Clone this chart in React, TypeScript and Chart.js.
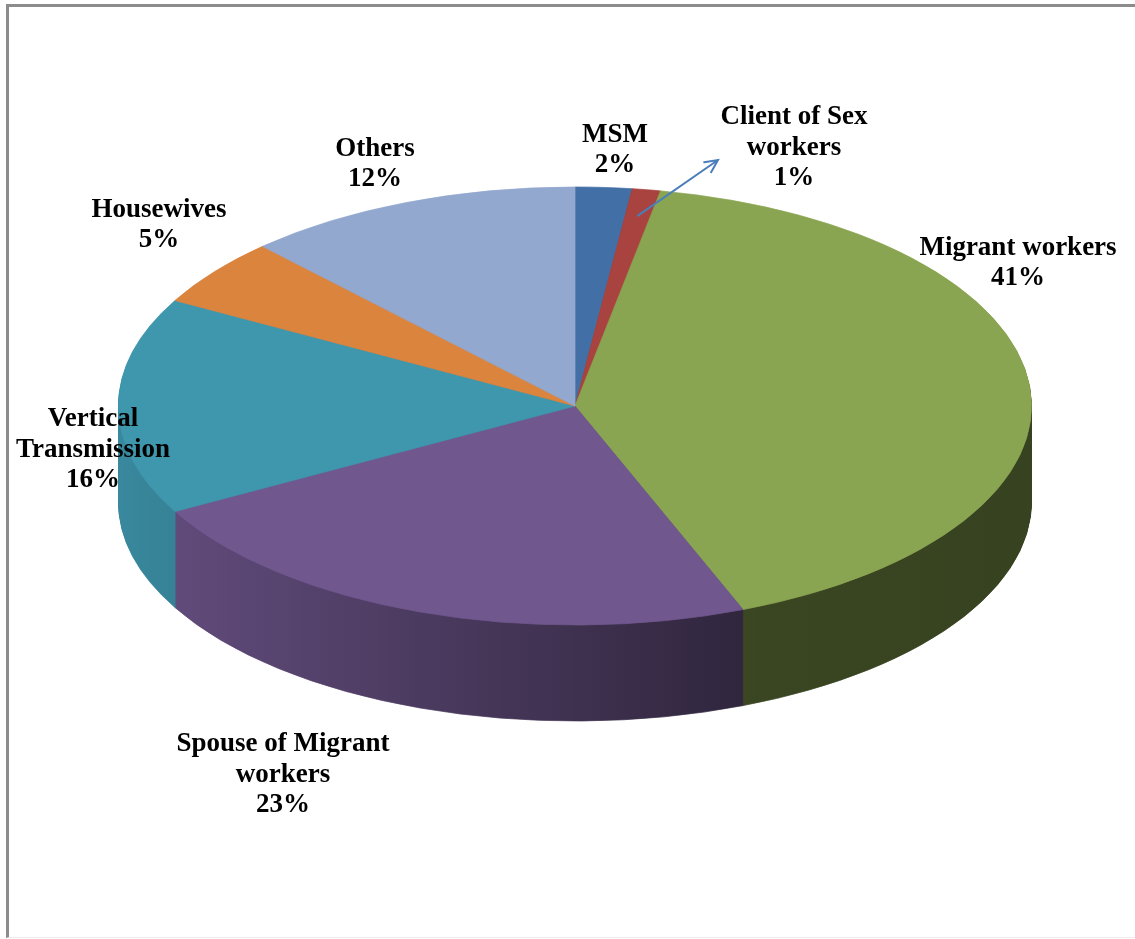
import { useEffect, useRef } from "react";
import { Chart, registerables } from "chart.js";

Chart.register(...registerables);

// ---- data ----
const categories = [
  "MSM",
  "Client of Sex\nworkers",
  "Migrant workers",
  "Spouse of Migrant\nworkers",
  "Vertical\nTransmission",
  "Housewives",
  "Others",
];
const values = [2, 1, 41, 23, 16, 5, 12];
const colors = ["#4270a6", "#a8433f", "#8aa551", "#70578e", "#3f97ae", "#db843e", "#93a8cf"];

// ---- layout ----
const W = 1135;
const H = 939;
const CX = 575; // horizontal centre of pie
const RX = 457; // horizontal radius
const CY = 406; // vertical centre of top face
const RY = 219; // vertical radius of top face
const DEPTH = 96; // wall thickness in px
// label block centres, relative to pie centre (px)
const labelOffsets: [number, number][] = [
  [40, -256],
  [219, -258],
  [443, -143],
  [-292, 369],
  [-482, 44],
  [-416, -181],
  [-200, -242],
];
const arrowEnd: [number, number] = [143, -246];

function shade(hex: string, f: number) {
  const n = parseInt(hex.slice(1), 16);
  const r = Math.round(((n >> 16) & 255) * f);
  const g = Math.round(((n >> 8) & 255) * f);
  const b = Math.round((n & 255) * f);
  return `rgb(${r},${g},${b})`;
}

const pie3d = {
  id: "pie3d",
  beforeDatasetsDraw(chart: any) {
    const arcs = chart.getDatasetMeta(0).data;
    chart.$pie3dSaved = false;
    if (!arcs.length) return;
    const a0 = arcs[0];
    const r = a0.outerRadius;
    const ex = a0.x;
    const ey = a0.y;
    const k = RY / r;
    const ctx = chart.ctx as CanvasRenderingContext2D;
    ctx.save();
    chart.$pie3dSaved = true;
    ctx.translate(0, CY);
    ctx.scale(1, k);
    ctx.translate(0, -ey);
    const grads = colors.map((c) => {
      const g = ctx.createLinearGradient(ex - r, 0, ex + r, 0);
      g.addColorStop(0, shade(c, 0.9));
      g.addColorStop(0.7, shade(c, 0.42));
      g.addColorStop(1, shade(c, 0.4));
      return g;
    });
    for (let d = DEPTH; d >= 1; d--) {
      ctx.save();
      ctx.translate(0, d / k);
      arcs.forEach((el: any, i: number) => {
        const p = Object.create(el);
        p.options = { ...el.options, backgroundColor: grads[i], borderColor: grads[i] };
        p.draw(ctx);
      });
      ctx.restore();
    }
  },
  afterDatasetsDraw(chart: any) {
    if (chart.$pie3dSaved) chart.ctx.restore();
    chart.$pie3dSaved = false;
  },
  afterDraw(chart: any) {
    const arcs = chart.getDatasetMeta(0).data;
    if (!arcs.length) return;
    const ex = arcs[0].x;
    const ctx = chart.ctx as CanvasRenderingContext2D;
    const total = values.reduce((a, b) => a + b, 0);
    ctx.save();
    ctx.fillStyle = "#000";
    ctx.font = "bold 27px 'Liberation Serif', 'Times New Roman', serif";
    ctx.textAlign = "center";
    ctx.textBaseline = "middle";
    const lh = 30.5;
    categories.forEach((cat, i) => {
      const lines = [...cat.split("\n"), Math.round((values[i] / total) * 100) + "%"];
      const [dx, dy] = labelOffsets[i];
      const x0 = ex + dx;
      const y0 = CY + dy - ((lines.length - 1) * lh) / 2;
      lines.forEach((ln, j) => ctx.fillText(ln, x0, y0 + j * lh));
    });
    // leader arrow for the small slice
    const el = arcs[1];
    const mid = (el.startAngle + el.endAngle) / 2;
    const sx = ex + Math.cos(mid) * RX * 0.88;
    const sy = CY + Math.sin(mid) * RY * 0.88;
    const tx = ex + arrowEnd[0];
    const ty = CY + arrowEnd[1];
    ctx.strokeStyle = "#4a7ebb";
    ctx.lineWidth = 2;
    ctx.lineCap = "round";
    ctx.beginPath();
    ctx.moveTo(sx, sy);
    ctx.lineTo(tx, ty);
    const ang = Math.atan2(ty - sy, tx - sx);
    const hl = 14;
    ctx.moveTo(tx - hl * Math.cos(ang - 0.45), ty - hl * Math.sin(ang - 0.45));
    ctx.lineTo(tx, ty);
    ctx.lineTo(tx - hl * Math.cos(ang + 0.45), ty - hl * Math.sin(ang + 0.45));
    ctx.stroke();
    ctx.restore();
  },
};

export default function App() {
  const ref = useRef<HTMLCanvasElement | null>(null);
  useEffect(() => {
    if (!ref.current) return;
    const side = 2 * RX;
    const chart = new Chart(ref.current, {
      type: "pie",
      data: {
        labels: categories.map((c) => c.replace("\n", " ")),
        datasets: [
          {
            data: values,
            backgroundColor: colors,
            borderColor: colors,
            borderWidth: 1,
            clip: false,
          } as any,
        ],
      },
      options: {
        responsive: false,
        animation: false,
        events: [],
        layout: {
          padding: {
            left: CX - RX,
            right: W - (CX - RX) - side,
            top: 0,
            bottom: H - side,
          },
        },
        plugins: {
          legend: { display: false },
          tooltip: { enabled: false },
          title: { display: false },
        },
      },
      plugins: [pie3d],
    });
    return () => chart.destroy();
  }, []);

  return (
    <div style={{ position: "fixed", inset: 0, overflow: "hidden", background: "#fff" }}>
      <div
        style={{
          position: "absolute",
          left: 6,
          top: 4,
          width: 1400,
          height: 934,
          boxSizing: "border-box",
          borderLeft: "3px solid #8c8c8c",
          borderTop: "3px solid #8c8c8c",
          borderBottom: "1px solid #ededed",
        }}
      />
      <canvas
        ref={ref}
        width={W}
        height={H}
        style={{ position: "absolute", left: 0, top: 0, width: W, height: H }}
      />
    </div>
  );
}
